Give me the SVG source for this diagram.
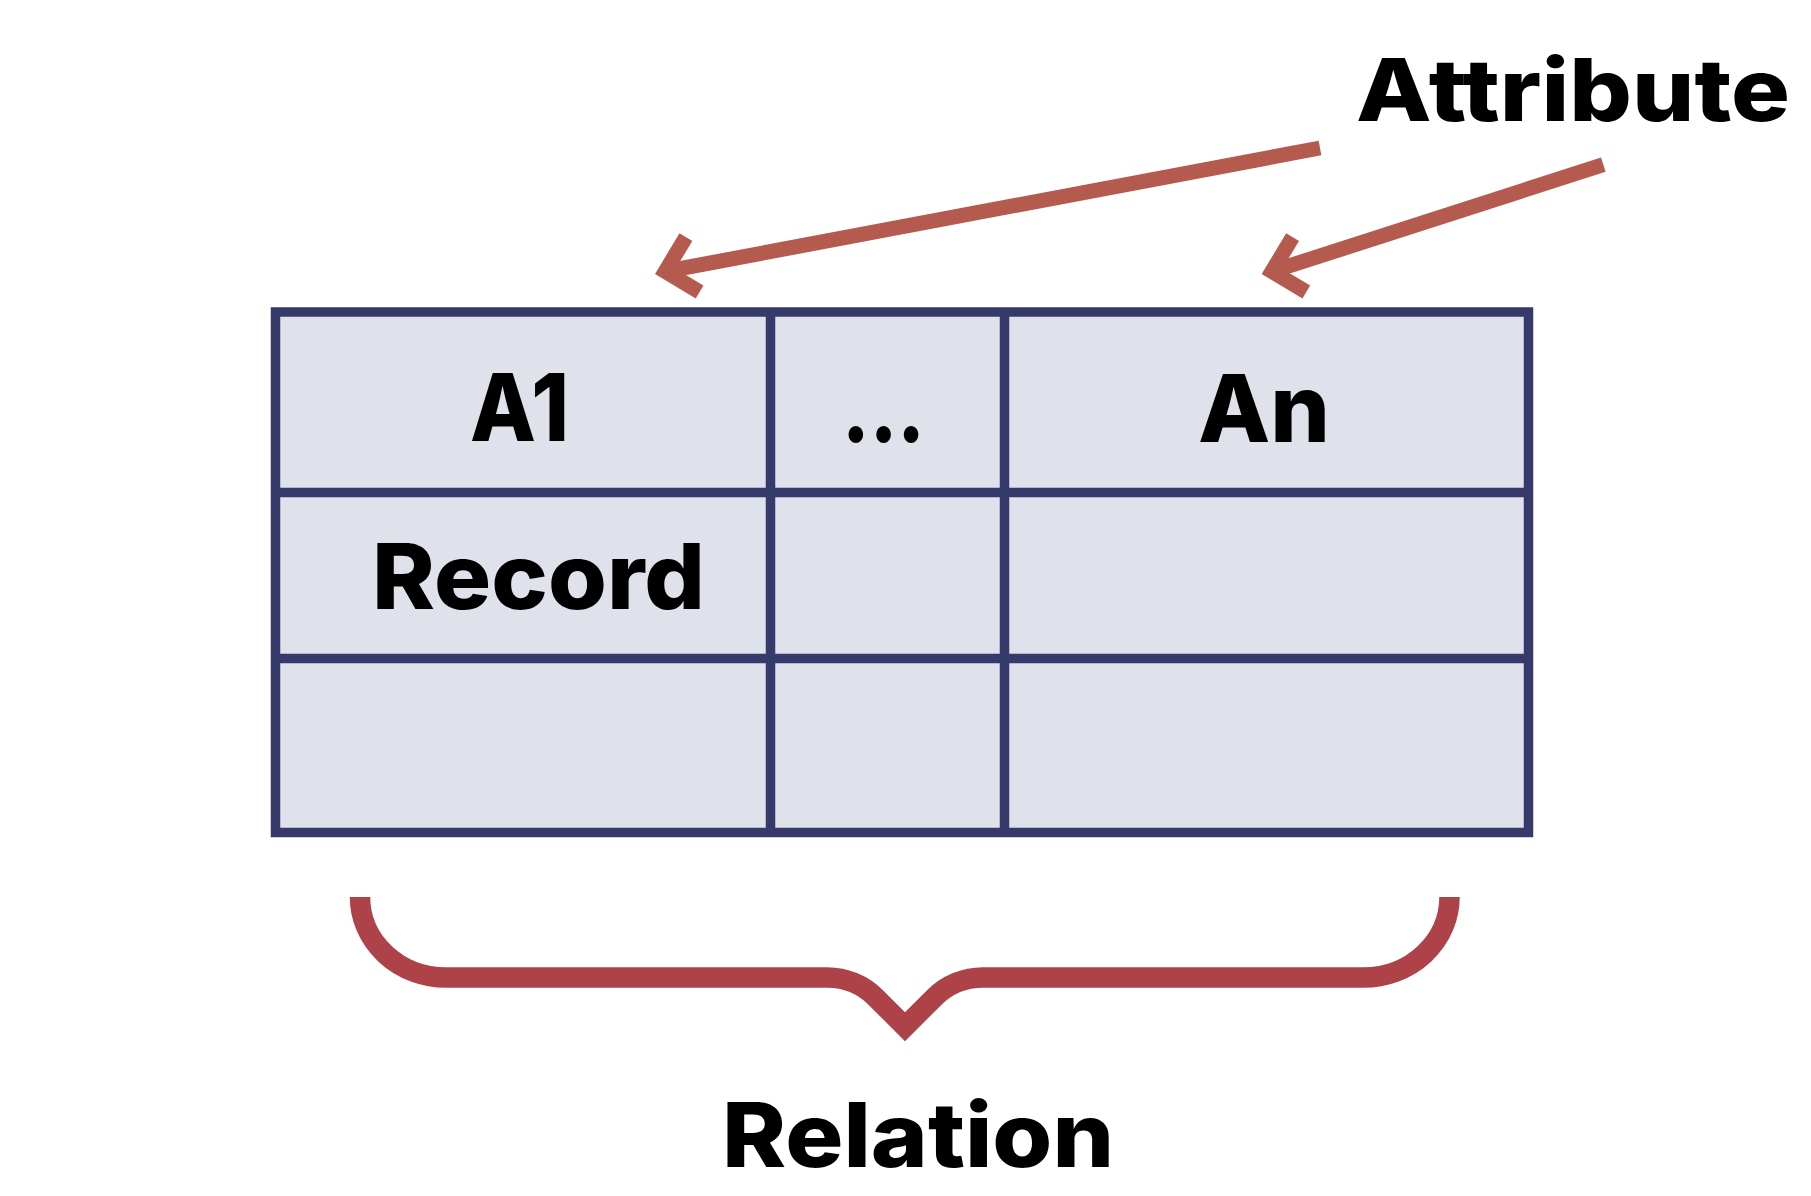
<svg xmlns="http://www.w3.org/2000/svg" width="1811" height="1196" viewBox="0 0 1811 1196">
  <style>
    .lbl { font-family: Inter, "Open Sans", "Liberation Sans", sans-serif; font-weight: 800; fill: #000000; }
    .grid { stroke: #363A6B; stroke-width: 9.5; fill: none; }
    .arrow { stroke: #B55A4E; stroke-width: 15; fill: none; stroke-linecap: butt; stroke-linejoin: miter; stroke-miterlimit: 10; }
    .brace { stroke: #AD4248; stroke-width: 20.5; fill: none; stroke-linecap: butt; stroke-linejoin: miter; stroke-miterlimit: 10; }
  </style>
  <rect width="1811" height="1196" fill="#FFFFFF"/>

  <g id="table">
    <rect x="275.5" y="312" width="1253" height="520.5" fill="#DFE2EA" stroke="#363A6B" stroke-width="9.5"/>
    <line class="grid" x1="770.5" y1="312" x2="770.5" y2="832.5"/>
    <line class="grid" x1="1004.5" y1="312" x2="1004.5" y2="832.5"/>
    <line class="grid" x1="275.5" y1="492.5" x2="1528.5" y2="492.5"/>
    <line class="grid" x1="275.5" y1="658.5" x2="1528.5" y2="658.5"/>
  </g>

  <g id="cell-a1">
    <text class="lbl" x="470" y="441" font-size="94" textLength="99" lengthAdjust="spacingAndGlyphs">A1</text>
  </g>
  <g id="cell-dots">
    <text class="lbl" x="842" y="442" font-size="94" textLength="83" lengthAdjust="spacingAndGlyphs">...</text>
  </g>
  <g id="cell-an">
    <text class="lbl" x="1198" y="442" font-size="94" textLength="132" lengthAdjust="spacingAndGlyphs">An</text>
  </g>
  <g id="cell-record">
    <text class="lbl" x="372" y="609.3" font-size="91" textLength="333" lengthAdjust="spacingAndGlyphs">Record</text>
  </g>

  <g id="label-attribute">
    <text class="lbl" x="1356" y="121" font-size="87" textLength="434" lengthAdjust="spacingAndGlyphs">Attribute</text>
  </g>
  <g id="label-relation">
    <text class="lbl" x="722" y="1167.3" font-size="89" textLength="392" lengthAdjust="spacingAndGlyphs">Relation</text>
  </g>

  <g id="connectors">
    <path class="arrow" d="M1320,148 L665.3,271.4"/>
    <path class="arrow" d="M685.9,237.1 L665.3,271.4 L699.6,292"/>
    <path class="arrow" d="M1603.3,164.7 L1272,271.4"/>
    <path class="arrow" d="M1292.6,237.1 L1272,271.4 L1306.3,292"/>
    <path class="brace" d="M360,897 A86,80.5 0 0 0 446,977.5 L827,977.5 A69.5,69.5 0 0 1 876.2,997.9 L905,1026.7 L933.8,997.9 A69.5,69.5 0 0 1 983,977.5 L1363.5,977.5 A86,80.5 0 0 0 1449.5,897"/>
  </g>
</svg>
